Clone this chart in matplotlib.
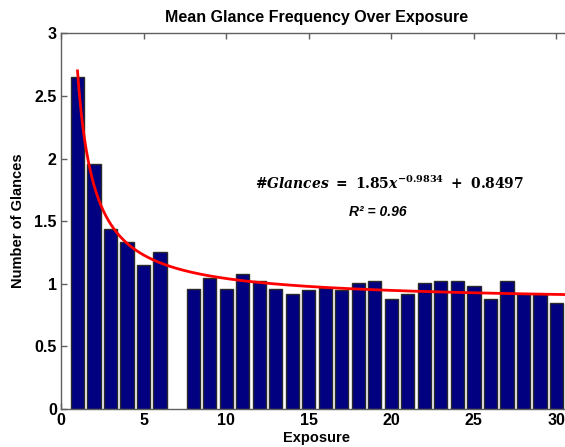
import numpy as np
import matplotlib
matplotlib.use("Agg")
import matplotlib.pyplot as plt

# Data
exposure = [1, 2, 3, 4, 5, 6, 8, 9, 10, 11, 12, 13, 14, 15, 16, 17, 18, 19, 20,
            21, 22, 23, 24, 25, 26, 27, 28, 29, 30]
glances = [2.65, 1.96, 1.44, 1.33, 1.15, 1.25, 0.96, 1.05, 0.96, 1.08, 1.02, 0.96,
           0.92, 0.95, 0.965, 0.95, 1.01, 1.02, 0.88, 0.92, 1.01, 1.02, 1.02, 0.98,
           0.88, 1.02, 0.92, 0.92, 0.85]
fit_a, fit_b, fit_c = 1.85, -0.9834, 0.8497
xticks = [0, 5, 10, 15, 20, 25, 30]
yticks = [0, 0.5, 1, 1.5, 2, 2.5, 3]
yticklabels = ["0", "0.5", "1", "1.5", "2", "2.5", "3"]

plt.rcParams['font.family'] = ['Liberation Sans', 'DejaVu Sans']
plt.rcParams['mathtext.fontset'] = 'custom'
plt.rcParams['mathtext.rm'] = 'DejaVu Serif:bold'
plt.rcParams['mathtext.it'] = 'DejaVu Serif:italic:bold'
plt.rcParams['mathtext.bf'] = 'DejaVu Serif:bold'

fig = plt.figure(figsize=(5.65, 4.47), dpi=100)
W, H = 565, 447
left, right, bottom, top = 61, 573, 409, 33.3
ax = fig.add_axes([left / W, 1 - bottom / H, (right - left) / W, (bottom - top) / H])

ax.bar(exposure, glances, width=0.8, color='#000080', edgecolor='#2a2a2a', linewidth=1.0, zorder=2)

xc = np.linspace(1, 31, 400)
ax.plot(xc, fit_a * xc ** fit_b + fit_c, color='#ff0000', linewidth=2, zorder=3)

ax.set_xlim(0, 31)
ax.set_ylim(0, 3)
ax.set_xticks(xticks)
ax.set_yticks(yticks)
ax.set_yticklabels(yticklabels)
ax.tick_params(direction='in', length=4, width=1, color='#606060', top=True, right=True,
               labelsize=11.5, pad=3)
for lab in ax.get_xticklabels() + ax.get_yticklabels():
    lab.set_fontweight('bold')
for s in ax.spines.values():
    s.set_color('#606060')
    s.set_linewidth(1)

ax.set_title('Mean Glance Frequency Over Exposure', fontsize=11.5, fontweight='bold', pad=8)
ax.set_xlabel('Exposure', fontsize=10.5, fontweight='bold', labelpad=2)
ax.set_ylabel('Number of Glances', fontsize=10.5, fontweight='bold', labelpad=7)

ax.text(19.9, 1.80, r'#$Glances\ =\ 1.85x^{-0.9834}\ +\ 0.8497$', fontsize=10,
        family='DejaVu Serif', fontweight='bold', fontstyle='italic',
        ha='center', va='center', color='black')
ax.text(19.2, 1.57, 'R² = 0.96', fontsize=10, fontweight='bold', fontstyle='italic',
        ha='center', va='center', color='black')

fig.savefig('out.png', dpi=100)
